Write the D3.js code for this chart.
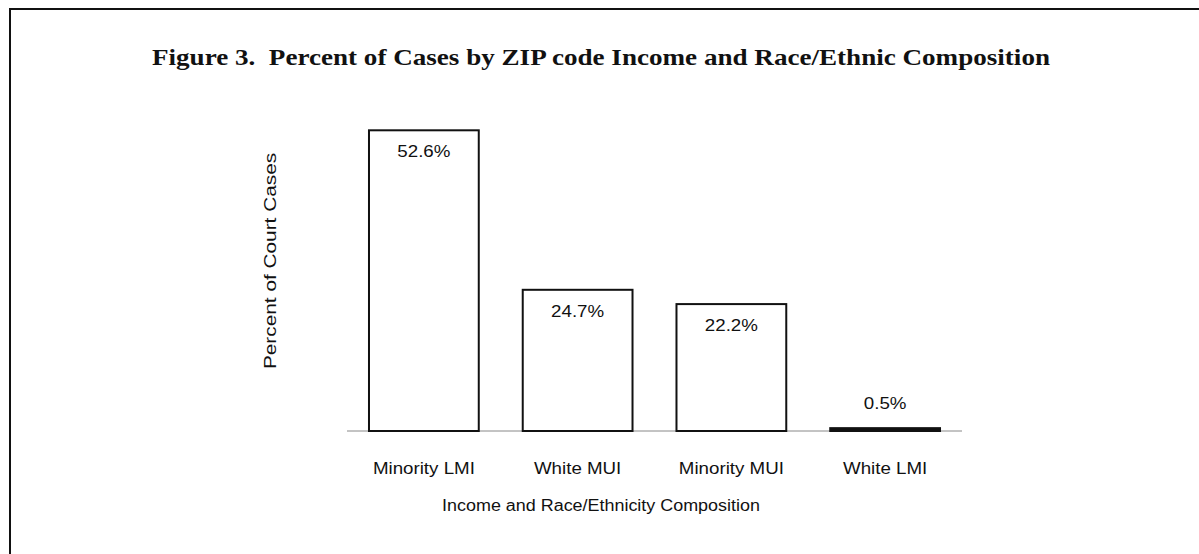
<!DOCTYPE html>
<html>
<head>
<meta charset="utf-8">
<script src="https://cdn.jsdelivr.net/npm/d3@7"></script>
<style>
  body { margin: 0; background: #fff; }
  svg { display: block; }
</style>
</head>
<body>
<svg id="svg" width="1199" height="554"></svg>
<script>
// chart data
let categories = ['Minority LMI', 'White MUI', 'Minority MUI', 'White LMI'];
let values = [52.6, 24.7, 22.2, 0.5];
let valueLabels = ['52.6%', '24.7%', '22.2%', '0.5%'];

let titleText = 'Figure 3.  Percent of Cases by ZIP code Income and Race/Ethnic Composition';
let xTitleText = 'Income and Race/Ethnicity Composition';
let yTitleText = 'Percent of Court Cases';

let svg = d3.select('#svg');

// the plot area sits inside the framed figure
let plot = { l: 347, r: 962, t: 88, b: 431 };

// the scanned text is wider than plain Arial, stretch it a bit
let sansStretch = 1.17;
let sans = 'Arial, "Liberation Sans", sans-serif';

// stretch a text element horizontally along its length
stretchText = (sel, factor) => {
    sel.each(function () {
        let w = this.getComputedTextLength();
        d3.select(this)
            .attr('textLength', w * factor)
            .attr('lengthAdjust', 'spacingAndGlyphs');
    });
}

// outer frame
svg.append('rect')
    .attr('x', 10)
    .attr('y', 9)
    .attr('width', 1200)
    .attr('height', 580)
    .attr('fill', 'none')
    .attr('stroke', '#111')
    .attr('stroke-width', 2);

// title
svg.append('text')
    .attr('x', 601)
    .attr('y', 65)
    .attr('text-anchor', 'middle')
    .attr('font-family', '"Times New Roman", "Liberation Serif", serif')
    .attr('font-weight', 'bold')
    .attr('font-size', '23px')
    .attr('fill', '#111')
    .style('white-space', 'pre')
    .text(titleText)
    .attr('textLength', 898)
    .attr('lengthAdjust', 'spacingAndGlyphs');

let xScale = d3.scaleBand()
    .domain(categories)
    .range([plot.l, plot.r])
    .paddingInner(0.286)
    .paddingOuter(0.143);

let yScale = d3.scaleLinear()
    .domain([0, 60])
    .range([plot.b, plot.t]);

// baseline
svg.append('line')
    .attr('x1', plot.l)
    .attr('x2', plot.r)
    .attr('y1', plot.b)
    .attr('y2', plot.b)
    .attr('stroke', '#888')
    .attr('stroke-width', 1);

let rows = categories.map((c, i) => ({ id: c, value: values[i], label: valueLabels[i] }));

let bars = svg.append('g').selectAll('.bar')
    .data(rows)
    .enter()
    .append('g')
    .attr('class', 'bar');

bars.append('rect')
    .attr('x', d => xScale(d.id))
    .attr('y', d => yScale(d.value))
    .attr('width', xScale.bandwidth())
    .attr('height', d => plot.b - yScale(d.value))
    .attr('fill', d => (plot.b - yScale(d.value) < 4) ? '#111' : '#fff')
    .attr('stroke', '#111')
    .attr('stroke-width', 2);

// value labels: inside the top of tall bars, above short ones
bars.append('text')
    .attr('x', d => xScale(d.id) + xScale.bandwidth() / 2)
    .attr('y', d => {
        let top = yScale(d.value);
        return (plot.b - top > 40) ? top + 27 : top - 19;
    })
    .attr('text-anchor', 'middle')
    .attr('font-family', sans)
    .attr('font-size', '16px')
    .attr('fill', '#111')
    .text(d => d.label)
    .call(stretchText, sansStretch);

// category labels
svg.append('g').selectAll('.cat')
    .data(categories)
    .enter()
    .append('text')
    .attr('class', 'cat')
    .attr('x', d => xScale(d) + xScale.bandwidth() / 2)
    .attr('y', 474)
    .attr('text-anchor', 'middle')
    .attr('font-family', sans)
    .attr('font-size', '16px')
    .attr('fill', '#111')
    .text(d => d)
    .call(stretchText, sansStretch);

// axis titles
svg.append('text')
    .attr('x', 601)
    .attr('y', 511)
    .attr('text-anchor', 'middle')
    .attr('font-family', sans)
    .attr('font-size', '16px')
    .attr('fill', '#111')
    .text(xTitleText)
    .call(stretchText, 1.12);

svg.append('text')
    .attr('transform', 'translate(276,261) rotate(-90)')
    .attr('text-anchor', 'middle')
    .attr('font-family', sans)
    .attr('font-size', '16px')
    .attr('fill', '#111')
    .text(yTitleText)
    .call(stretchText, 1.3);
</script>
</body>
</html>
